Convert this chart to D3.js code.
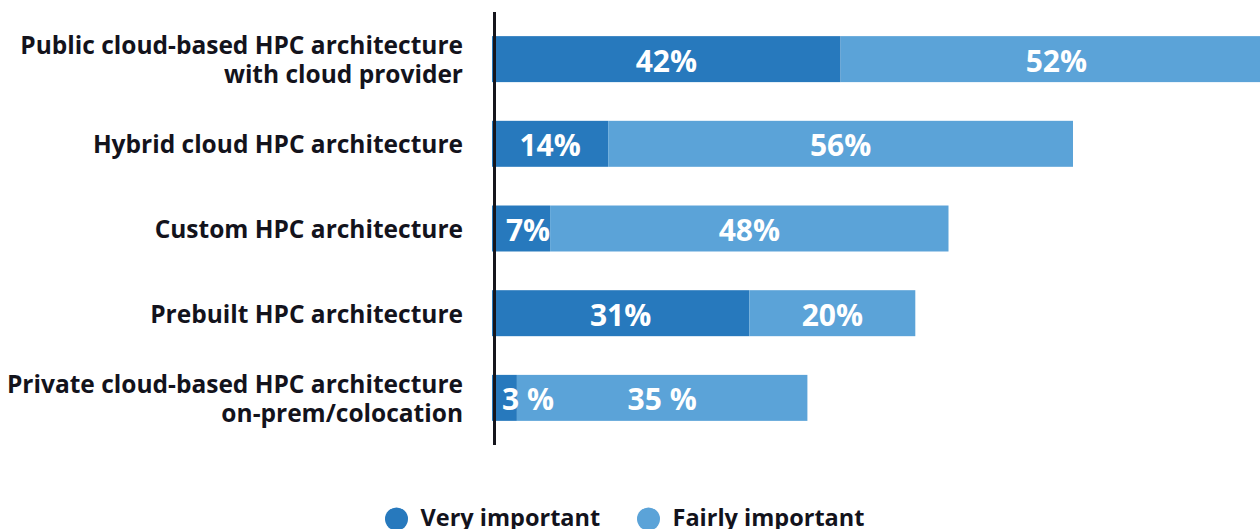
<!DOCTYPE html>
<html>
<head>
<meta charset="utf-8">
<script src="https://cdn.jsdelivr.net/npm/d3@7"></script>
<style>
  html, body { margin: 0; padding: 0; background: #fff; }
  svg { display: block; }
  text { font-family: "Open Sans", Lato, sans-serif; font-weight: 700; }
</style>
</head>
<body>
<svg id="chart" width="1260" height="529"></svg>
<script>
// Survey categories (each entry is one or two label lines)
const categories = [
  ["Public cloud-based HPC architecture", "with cloud provider"],
  ["Hybrid cloud HPC architecture"],
  ["Custom HPC architecture"],
  ["Prebuilt HPC architecture"],
  ["Private cloud-based HPC architecture", "on-prem/colocation"]
];
const veryImportant   = [42, 14, 7, 31, 3];
const fairlyImportant = [52, 56, 48, 20, 35];
// Percent suffix as printed on each row
const percentSuffix = ["%", "%", "%", "%", " %"];
const seriesNames = ["Very important", "Fairly important"];
const seriesColors = ["#2779bd", "#5ba3d8"];

const svg = d3.select("#chart");

const x = d3.scaleLinear().domain([0, 100]).range([492, 1322]);
const y = d3.scaleBand()
  .domain(d3.range(categories.length))
  .range([12, 445])
  .paddingInner(0.457)
  .paddingOuter(0.285);

const rows = categories.map((c, i) => ({
  i,
  segs: [
    { s: 0, x0: 0, x1: veryImportant[i], v: veryImportant[i] },
    { s: 1, x0: veryImportant[i], x1: veryImportant[i] + fairlyImportant[i], v: fairlyImportant[i] }
  ]
}));

// Stacked bars
const g = svg.append("g");
const rowG = g.selectAll("g.row").data(rows).join("g").attr("class", "row");
rowG.selectAll("rect").data(d => d.segs.map(s => ({ ...s, i: d.i }))).join("rect")
  .attr("x", d => x(d.x0))
  .attr("y", d => y(d.i))
  .attr("width", d => x(d.x1) - x(d.x0))
  .attr("height", y.bandwidth())
  .attr("fill", d => seriesColors[d.s]);

// Value labels inside segments
rowG.selectAll("text").data(d => d.segs.map(s => ({ ...s, i: d.i }))).join("text")
  .attr("x", d => {
    const c = (x(d.x0) + x(d.x1)) / 2;
    return Math.max(c, x(0) + 36);
  })
  .attr("y", d => y(d.i) + y.bandwidth() / 2 + 1)
  .attr("text-anchor", "middle")
  .attr("dominant-baseline", "central")
  .attr("fill", "#fff")
  .style("font-size", "30px")
  .text(d => d.v + percentSuffix[d.i]);

// Vertical axis line
svg.append("line")
  .attr("x1", 494.5).attr("x2", 494.5)
  .attr("y1", y.range()[0]).attr("y2", y.range()[1])
  .attr("stroke", "#15151d").attr("stroke-width", 3);

// Category labels
const lab = svg.append("g").selectAll("text").data(categories).join("text")
  .attr("x", 463)
  .attr("text-anchor", "end")
  .attr("fill", "#13131c")
  .style("font-size", "24.5px");
lab.each(function (lines, i) {
  const cy = y(i) + y.bandwidth() / 2;
  const lh = 29.5;
  d3.select(this).selectAll("tspan").data(lines).join("tspan")
    .attr("x", 463)
    .attr("y", (d, k) => cy + (k - (lines.length - 1) / 2) * lh)
    .attr("dominant-baseline", "central")
    .text(d => d);
});

// Legend
const legendX = [396.5, 648.5];
const leg = svg.append("g").selectAll("g").data(seriesNames).join("g");
leg.append("circle")
  .attr("cx", (d, i) => legendX[i])
  .attr("cy", 519)
  .attr("r", 11.5)
  .attr("fill", (d, i) => seriesColors[i]);
leg.append("text")
  .attr("x", (d, i) => legendX[i] + 24)
  .attr("y", 526)
  .attr("fill", "#13131c")
  .style("font-size", "23.5px")
  .text(d => d);
</script>
</body>
</html>
